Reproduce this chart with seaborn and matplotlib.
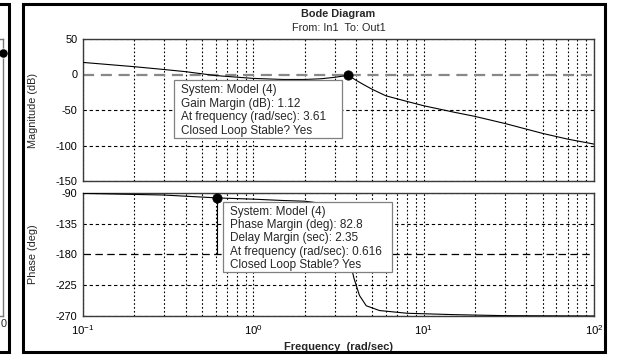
import numpy as np
import pandas as pd
import matplotlib
matplotlib.use("Agg")
import matplotlib.pyplot as plt
from matplotlib.patches import Rectangle
from matplotlib.ticker import FixedLocator, NullFormatter, FixedFormatter
import seaborn as sns

# ---------------- data ----------------
mag_freq = [0.1, 0.2, 0.3, 0.4, 0.6, 1.0, 1.5, 2.0, 2.5, 3.0, 3.3, 3.61,
            4.0, 4.5, 5.0, 6.0, 8.0, 10, 15, 20, 30, 50, 70, 100]
mag_db = [17, 11, 7, 4, -1.5, -5.5, -7, -7, -6, -4, -2.5, -1.12,
          -8, -15, -21, -30, -38, -44, -53, -59, -69, -83, -91, -98]

ph_freq = [0.1, 0.3, 0.616, 1.0, 1.5, 2.0, 2.5, 3.0, 3.3, 3.61, 3.9, 4.2,
           4.6, 5.5, 8.0, 15, 30, 100]
ph_deg = [-90.5, -93, -97.2, -99, -101, -102, -105, -115, -135, -180, -215, -240,
          -255, -262, -266, -268, -269.5, -270]

gm_freq, gm_db = 3.61, -1.12
pm_freq, pm_phase = 0.616, -97.2

mag_ticks = [50, 0, -50, -100, -150]
ph_ticks = [-90, -135, -180, -225, -270]
x_major = [0.1, 1, 10, 100]
x_labels = ["$10^{-1}$", "$10^{0}$", "$10^{1}$", "$10^{2}$"]

title1 = "Bode Diagram"
title2 = "From: In1  To: Out1"
xlabel = "Frequency  (rad/sec)"
gm_text = "System: Model (4)\nGain Margin (dB): 1.12\nAt frequency (rad/sec): 3.61\nClosed Loop Stable? Yes"
pm_text = ("System: Model (4)\nPhase Margin (deg): 82.8\nDelay Margin (sec): 2.35\n"
           "At frequency (rad/sec): 0.616\nClosed Loop Stable? Yes")

# ---------------- style ----------------
sns.set_theme(style="white")
plt.rcParams['font.family'] = ['Liberation Sans', 'DejaVu Sans']
plt.rcParams['mathtext.fontset'] = 'custom'
plt.rcParams['mathtext.rm'] = 'Liberation Sans'
plt.rcParams['mathtext.it'] = 'Liberation Sans'
plt.rcParams['axes.unicode_minus'] = False

W, H = 622, 356
fig = plt.figure(figsize=(W / 100, H / 100), dpi=100)
fig.patch.set_facecolor('white')


def fx(px):
    return px / W


def fy(py):
    return 1 - py / H


# axes positions (pixels)
L, R = 83, 594
mag_top, mag_bot = 39, 181
ph_top, ph_bot = 193, 316

ax_m = fig.add_axes([fx(L), fy(mag_bot), fx(R - L), (mag_bot - mag_top) / H])
ax_p = fig.add_axes([fx(L), fy(ph_bot), fx(R - L), (ph_bot - ph_top) / H])

minors = [m * 10.0 ** e for e in (-1, 0, 1) for m in range(2, 10)]

for ax in (ax_m, ax_p):
    ax.set_xscale('log')
    ax.set_xlim(0.1, 100)
    ax.xaxis.set_major_locator(FixedLocator(x_major))
    ax.xaxis.set_minor_locator(FixedLocator(minors))
    ax.xaxis.set_minor_formatter(NullFormatter())
    ax.set_facecolor('white')
    for s in ax.spines.values():
        s.set_color('#3a3a3a')
        s.set_linewidth(1.0)
    ax.tick_params(axis='both', which='both', length=0, labelsize=7.8, colors='black', pad=4)
    for xv in x_major + minors:
        ax.axvline(xv, color='black', lw=0.8, ls=(0, (1.5, 2)), zorder=1)

# ---- magnitude ----
ax_m.set_ylim(-150, 50)
ax_m.set_yticks(mag_ticks)
ax_m.xaxis.set_major_formatter(NullFormatter())
for yv in [-50, -100, 50, -150]:
    ax_m.axhline(yv, color='black', lw=0.8, ls=(0, (3, 2.5)), zorder=1)
ax_m.axhline(0, color='#888888', lw=1.6, ls=(0, (5, 3)), zorder=2)
sns.lineplot(x=mag_freq, y=mag_db, ax=ax_m, color='black', lw=0.8, zorder=3, estimator=None, sort=False)
ax_m.plot([gm_freq, gm_freq], [0, gm_db], color='black', lw=0.8, zorder=3)
sns.scatterplot(x=[gm_freq], y=[gm_db], ax=ax_m, color='black', s=45, zorder=5, edgecolor='black')
ax_m.set_ylabel("Magnitude (dB)", fontsize=7.8)
ax_m.yaxis.set_label_coords(-0.088, 0.5)
ax_m.set_xlabel("")

# ---- phase ----
ax_p.set_ylim(-270, -90)
ax_p.set_yticks(ph_ticks)
ax_p.xaxis.set_major_formatter(FixedFormatter(x_labels))
ax_p.tick_params(axis='x', labelsize=8.2, pad=5)
for yv in [-90, -135, -225, -270]:
    ax_p.axhline(yv, color='black', lw=0.8, ls=(0, (3, 2.5)), zorder=1)
ax_p.axhline(-180, color='black', lw=0.9, ls=(0, (6, 3.5)), zorder=2)
sns.lineplot(x=ph_freq, y=ph_deg, ax=ax_p, color='black', lw=0.8, zorder=3, estimator=None, sort=False)
ax_p.plot([pm_freq, pm_freq], [-180, pm_phase], color='black', lw=0.8, zorder=3)
sns.scatterplot(x=[pm_freq], y=[pm_phase], ax=ax_p, color='black', s=45, zorder=5, edgecolor='black')
ax_p.set_ylabel("Phase (deg)", fontsize=7.8)
ax_p.yaxis.set_label_coords(-0.088, 0.5)
ax_p.set_xlabel(xlabel, fontsize=8, fontweight='bold')
ax_p.xaxis.set_label_coords(0.5, -0.215)

# data-tip boxes (figure pixel placement)
def tip_box(x0, y0, x1, y1, text, ls):
    fig.patches.append(Rectangle((fx(x0), fy(y1)), fx(x1 - x0), (y1 - y0) / H,
                                 transform=fig.transFigure, fc='white', ec='#808080',
                                 lw=0.9, zorder=4))
    fig.text(fx(x0 + 7), fy(y0 + 4), text, ha='left', va='top', fontsize=8.5,
             linespacing=ls, zorder=5)

tip_box(174, 80, 342, 138, gm_text, 1.17)
tip_box(223, 202, 392, 272, pm_text, 1.13)

# titles
fig.text(fx((L + R) / 2), fy(14), title1, ha='center', va='center', fontsize=7.8, fontweight='bold')
fig.text(fx((L + R) / 2), fy(28), title2, ha='center', va='center', fontsize=7.8)

# ---- partial neighbouring panel on the left ----
ax_l = fig.add_axes([fx(-120), fy(ph_bot), fx(123), (ph_bot - mag_top) / H])
ax_l.set_xlim(0, 1)
ax_l.set_ylim(0, 1)
for s in ax_l.spines.values():
    s.set_color('#777777')
    s.set_linewidth(1.0)
ax_l.set_xticks([])
ax_l.set_yticks([])
sns.scatterplot(x=[1.0], y=[0.95], ax=ax_l, color='black', s=45, zorder=5, clip_on=False)
fig.text(fx(4), fy(324), "0", ha='center', va='center', fontsize=7.8)

# frames
fig.patches.append(Rectangle((fx(23), fy(352)), fx(605 - 23), (352 - 4) / H,
                             transform=fig.transFigure, fill=False, ec='black', lw=2.2, zorder=6))
fig.patches.append(Rectangle((fx(-20), fy(352)), fx(29), (352 - 4) / H,
                             transform=fig.transFigure, fill=False, ec='black', lw=2.2, zorder=6))

fig.savefig("out.png", dpi=100, facecolor='white')
